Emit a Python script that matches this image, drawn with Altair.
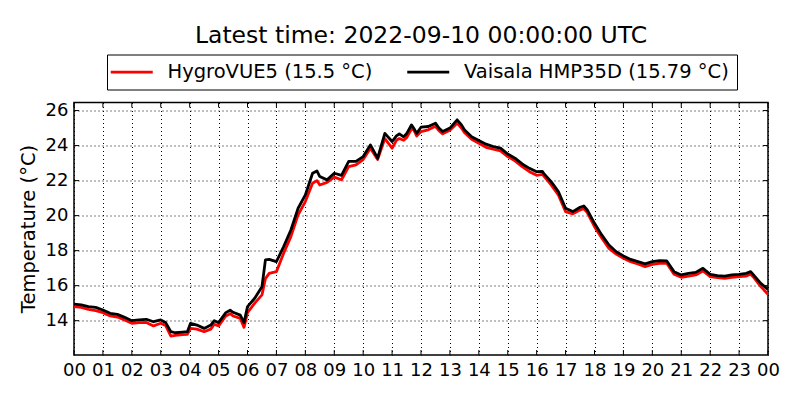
import altair as alt
import pandas as pd

hours = [0.00, 0.25, 0.50, 0.75, 1.00, 1.25, 1.50, 1.75, 2.00, 2.25, 2.50, 2.75,
         3.00, 3.17, 3.35, 3.50, 3.75, 3.92, 4.03, 4.25, 4.50, 4.73, 4.85, 5.00,
         5.25, 5.40, 5.50, 5.75, 5.88, 6.00, 6.25, 6.50, 6.62, 6.75, 7.00, 7.25,
         7.50, 7.75, 8.00, 8.25, 8.40, 8.50, 8.75, 9.00, 9.25, 9.50, 9.75, 10.00,
         10.25, 10.50, 10.75, 11.00, 11.15, 11.25, 11.40, 11.50, 11.67, 11.75, 11.85, 12.00,
         12.25, 12.50, 12.62, 12.75, 13.00, 13.25, 13.40, 13.50, 13.75, 14.00, 14.25, 14.50,
         14.75, 15.00, 15.25, 15.50, 15.75, 16.00, 16.20, 16.25, 16.50, 16.75, 17.00, 17.25,
         17.50, 17.63, 17.75, 18.00, 18.25, 18.50, 18.75, 19.00, 19.25, 19.50, 19.75, 20.00,
         20.25, 20.50, 20.75, 21.00, 21.25, 21.50, 21.75, 22.00, 22.25, 22.50, 22.75, 23.00,
         23.25, 23.40, 23.50, 23.75, 24.00]

vaisala = [14.95, 14.90, 14.80, 14.76, 14.61, 14.42, 14.36, 14.19, 14.00, 14.04, 14.08, 13.94,
           14.04, 13.89, 13.37, 13.31, 13.35, 13.37, 13.85, 13.75, 13.56, 13.75, 14.00, 13.89,
           14.46, 14.60, 14.48, 14.32, 13.89, 14.80, 15.28, 15.94, 17.47, 17.50, 17.37, 18.23,
           19.18, 20.42, 21.18, 22.42, 22.55, 22.23, 22.04, 22.42, 22.30, 23.10, 23.10, 23.37,
           24.04, 23.28, 24.70, 24.23, 24.55, 24.67, 24.50, 24.67, 25.18, 24.99, 24.70, 25.05,
           25.09, 25.28, 25.00, 24.80, 25.00, 25.47, 25.18, 24.90, 24.51, 24.29, 24.08, 23.94,
           23.85, 23.52, 23.28, 22.95, 22.70, 22.51, 22.52, 22.40, 21.94, 21.37, 20.42, 20.23,
           20.48, 20.55, 20.32, 19.56, 18.90, 18.32, 17.94, 17.70, 17.50, 17.37, 17.24, 17.37,
           17.43, 17.41, 16.80, 16.61, 16.70, 16.76, 16.99, 16.65, 16.57, 16.55, 16.61, 16.65,
           16.70, 16.80, 16.61, 16.13, 15.79]

hygrovue = [14.80, 14.76, 14.65, 14.57, 14.46, 14.27, 14.21, 14.04, 13.85, 13.89, 13.90, 13.70,
            13.85, 13.72, 13.12, 13.16, 13.20, 13.22, 13.56, 13.52, 13.37, 13.52, 13.80, 13.70,
            14.27, 14.40, 14.27, 14.13, 13.62, 14.46, 15.00, 15.47, 16.40, 16.70, 16.80, 17.85,
            18.80, 20.04, 20.80, 21.85, 22.00, 21.75, 21.90, 22.20, 22.05, 22.80, 22.90, 23.20,
            23.85, 23.20, 24.40, 23.85, 24.30, 24.40, 24.30, 24.45, 24.95, 24.90, 24.55, 24.80,
            24.90, 25.10, 24.85, 24.67, 24.87, 25.28, 25.00, 24.75, 24.36, 24.13, 23.90, 23.79,
            23.70, 23.37, 23.13, 22.80, 22.51, 22.30, 22.35, 22.25, 21.75, 21.18, 20.23, 20.10,
            20.32, 20.40, 20.17, 19.37, 18.72, 18.13, 17.80, 17.56, 17.37, 17.24, 17.09, 17.22,
            17.28, 17.28, 16.65, 16.48, 16.55, 16.61, 16.84, 16.52, 16.46, 16.42, 16.48, 16.52,
            16.55, 16.65, 16.48, 15.95, 15.50]

hour_ticks = list(range(25))
temp_ticks = [14, 16, 18, 20, 22, 24, 26]

name_h = f"HygroVUE5 ({hygrovue[-1]} °C)"
name_v = f"Vaisala HMP35D ({vaisala[-1]} °C)"
colors = ["#ff0000", "#000000"]

df = pd.concat([
    pd.DataFrame({"hour": hours, "temp": hygrovue, "series": name_h}),
    pd.DataFrame({"hour": hours, "temp": vaisala, "series": name_v}),
])

FONT = "DejaVu Sans"
W, H = 694, 252.5
TICK = 5

xscale = alt.Scale(domain=[0, 24], nice=False, zero=False)
yscale = alt.Scale(domain=[12.04, 26.46], nice=False, zero=False)

xaxis = alt.Axis(values=hour_ticks,
                 labelExpr="(datum.value % 24) < 10 ? '0' + (datum.value % 24) : '' + (datum.value % 24)",
                 title=None, ticks=False, domain=False,
                 labelFont=FONT, labelFontSize=18, labelColor="black",
                 labelPadding=6, labelFlush=False, labelOverlap=False,
                 grid=True, gridColor="black", gridDash=[1, 3], gridOpacity=1, gridWidth=1)
yaxis = alt.Axis(values=temp_ticks,
                 title="Temperature (°C)", titleFont=FONT, titleFontSize=19.5,
                 titleFontWeight="normal", titleColor="black",
                 titleX=-45.5, titleY=126, titleBaseline="middle", titleAngle=-90,
                 ticks=False, domain=False,
                 labelFont=FONT, labelFontSize=18, labelColor="black", labelPadding=6,
                 grid=True, gridColor="black", gridDash=[1, 3], gridOpacity=1, gridWidth=1)

lines = alt.Chart(df).mark_line(strokeWidth=2.8, clip=True, strokeJoin="round").encode(
    x=alt.X("hour:Q", scale=xscale, axis=xaxis),
    y=alt.Y("temp:Q", scale=yscale, axis=yaxis),
    color=alt.Color("series:N",
                    scale=alt.Scale(domain=[name_h, name_v], range=colors),
                    legend=alt.Legend(title=None, orient="none", legendX=33, legendY=-48,
                                      direction="horizontal", symbolType="M-3,0H3",
                                      symbolSize=196, symbolStrokeWidth=2.8, symbolOffset=7.5,
                                      labelFont=FONT, labelFontSize=19.5, labelColor="black",
                                      labelOffset=26, labelLimit=500, columnPadding=28.5, padding=7.5,
                                      strokeColor="black", fillColor="white")),
)

xt = pd.DataFrame({"hour": hour_ticks})
yt = pd.DataFrame({"temp": temp_ticks})

xticks_bottom = alt.Chart(xt).mark_rule(color="black", strokeWidth=1).encode(
    x=alt.X("hour:Q", scale=xscale, axis=xaxis), y=alt.value(H - TICK), y2=alt.value(H))
xticks_top = alt.Chart(xt).mark_rule(color="black", strokeWidth=1).encode(
    x=alt.X("hour:Q", scale=xscale, axis=xaxis), y=alt.value(0), y2=alt.value(TICK))
yticks_left = alt.Chart(yt).mark_rule(color="black", strokeWidth=1).encode(
    y=alt.Y("temp:Q", scale=yscale, axis=yaxis), x=alt.value(0), x2=alt.value(TICK))
yticks_right = alt.Chart(yt).mark_rule(color="black", strokeWidth=1).encode(
    y=alt.Y("temp:Q", scale=yscale, axis=yaxis), x=alt.value(W - TICK), x2=alt.value(W))

chart = alt.layer(lines, xticks_bottom, xticks_top, yticks_left, yticks_right).properties(
    width=W, height=H,
    padding={"left": 66, "top": 94.5, "right": 24, "bottom": 37},
    autosize=alt.AutoSizeParams(type="none"),
    title=alt.TitleParams("Latest time: 2022-09-10 00:00:00 UTC", font=FONT, fontSize=23.5,
                          fontWeight="normal", color="black", anchor="middle", frame="group",
                          baseline="alphabetic", offset=-12),
).configure_view(stroke="black", strokeWidth=1.5)

chart.save("out.html", embed_options={"renderer": "svg", "actions": False})
